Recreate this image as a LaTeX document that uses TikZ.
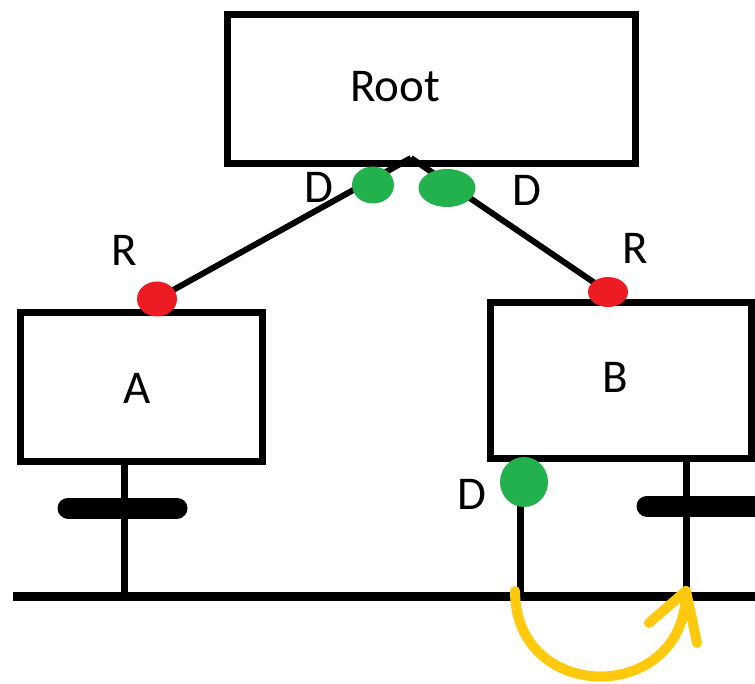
\documentclass[tikz,border=0pt]{standalone}
\usepackage{fontspec}
\setmainfont{Carlito}
\usetikzlibrary{shapes.geometric}
\definecolor{pgreen}{HTML}{22B14C}
\definecolor{pred}{HTML}{ED1C24}
\definecolor{pyellow}{HTML}{FFC90E}
\begin{document}
\begin{tikzpicture}[x=1pt,y=-1pt,
  box/.style={draw=black,line width=7pt,minimum width=#1,inner sep=0pt,fill=white},
  lbl/.style={font=\fontsize{47}{47}\selectfont,inner sep=0pt},
  wire/.style={line width=6pt,draw=black},
  dot/.style={ellipse,inner sep=0pt,draw=none},
  capbar/.style={line width=21pt,line cap=round,draw=black}]
\useasboundingbox (0,0) rectangle (755,684);
\clip (0,0) rectangle (755,684);
% boxes
\node[box=408pt,minimum height=149pt] (root) at (431,89.5) {};
\node[box=242pt,minimum height=148pt] (A) at (141,387) {};
\node[box=261pt,minimum height=155pt] (B) at (620.5,380.5) {};
\node[lbl] (troot) at (395,87) {Root};
\node[lbl] (tA) at (137,388) {A};
\node[lbl] (tB) at (615,377) {B};
% coordinates
\coordinate (apex) at (411,158);
\coordinate (ra) at (157,299);
\coordinate (rb) at (608,292);
\coordinate (gl) at (373,185);
\coordinate (gr) at (447,188);
\coordinate (gb) at (524,482);
\coordinate (sa1) at (124,461);
\coordinate (sa2) at (124,596);
\coordinate (sb1) at (520,458);
\coordinate (sb2) at (520,596);
\coordinate (sc1) at (686.5,455);
\coordinate (sc2) at (686.5,596);
\coordinate (bl) at (13,596);
\coordinate (br) at (755,596);
\coordinate (capa1) at (68,508);
\coordinate (capa2) at (177,508);
\coordinate (capb1) at (647,506);
\coordinate (capb2) at (770,506);
% wires
\draw[wire] (apex) -- (ra);
\draw[wire] (apex) -- (rb);
\draw[line width=7pt] (sa1) -- (sa2);
\draw[line width=7pt] (sb1) -- (sb2);
\draw[line width=7pt] (sc1) -- (sc2);
\draw[line width=9pt] (bl) -- (br);
\draw[capbar] (capa1) -- (capa2);
\draw[capbar] (capb1) -- (capb2);
% dots
\node[dot,fill=pgreen,minimum width=42pt,minimum height=37pt] (dgl) at (gl) {};
\node[dot,fill=pgreen,minimum width=57pt,minimum height=38pt] (dgr) at (gr) {};
\node[dot,fill=pred,minimum width=40pt,minimum height=35pt] (dra) at (ra) {};
\node[dot,fill=pred,minimum width=40pt,minimum height=30pt] (drb) at (rb) {};
\node[dot,fill=pgreen,minimum width=48pt,minimum height=50pt] (dgb) at (gb) {};
% labels
\node[lbl] (d1) at (319,187) {D};
\node[lbl] (d2) at (527,190) {D};
\node[lbl] (r1) at (124,250) {R};
\node[lbl] (r2) at (635,248) {R};
\node[lbl] (d3) at (472,494) {D};
% yellow arrow
\coordinate (ys) at (515,591);
\coordinate (ye) at (686,591);
\coordinate (yh1) at (649,623);
\coordinate (yh2) at (697,643);
\draw[pyellow,line width=10pt,line cap=round,line join=round]
  (ys) .. controls (515,705) and (686,705) .. (ye);
\draw[pyellow,line width=10pt,line cap=round,line join=round]
  (yh1) -- (ye) -- (yh2);
\end{tikzpicture}
\end{document}
